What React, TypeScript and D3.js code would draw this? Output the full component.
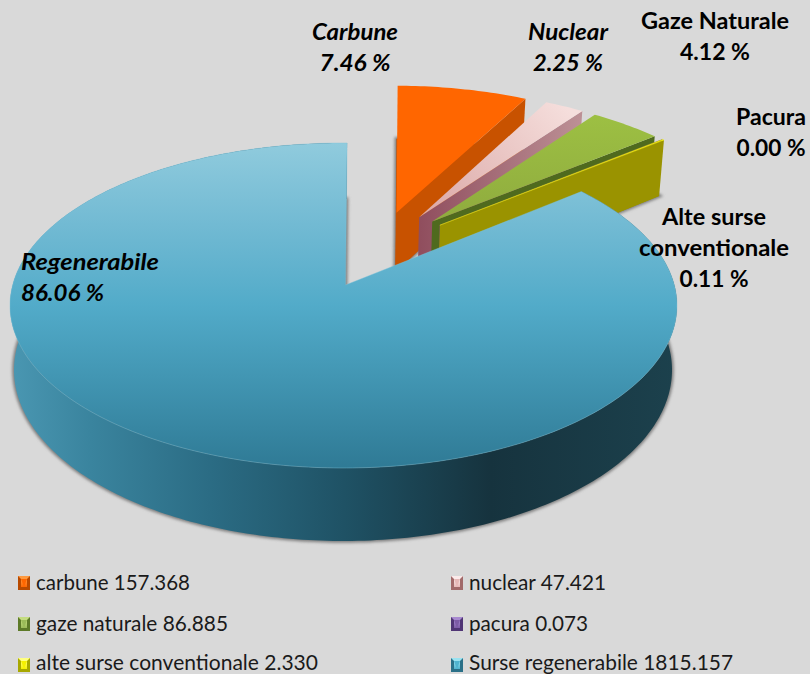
import React from "react";
import * as d3 from "d3";

// ---- data ----
const categories = ["carbune", "nuclear", "gaze naturale", "pacura", "alte surse conventionale", "Surse regenerabile"];
const values = [157.368, 47.421, 86.885, 0.073, 2.33, 1815.157];
const labelTitles = [["Carbune"], ["Nuclear"], ["Gaze Naturale"], ["Pacura"], ["Alte surse", "conventionale"], ["Regenerabile"]];

// ---- styles / layout (not data) ----
const W = 810, H = 674;
const FONT = "Lato, Carlito, 'Open Sans', sans-serif";
const topFrame = { cx: 343.5, cy: 305.5, rx: 333.5, ry: 162.5 };
const botFrame = { cx: 343, cy: 370, rx: 329, ry: 171 };
const persp = 0.126;
const explode = 0.256;
const spin = (0.7 * Math.PI) / 180;
const apexBiasBlue = 0.006;
const apexBiasRest = -0.012;
const uBiasRest = 0.008;
const perspS = Math.sqrt(1 - persp * persp);

const topFill = ["#ff6600", "url(#pinkTop)", "url(#greenTop)", "#8064a2", "#f5f000", "url(#blueTop)"];
const wallFill = ["#c85200", "url(#pinkWall)", "#4f6a1e", "#5a3d80", "#9a9300", "url(#blueWall)"];
const legendBase = ["#ff6600", "#e6b8b7", "#9bbb59", "#7d5ba6", "#f5f000", "#4fb3cf"];
const legendDark = ["#b84a00", "#a26a6a", "#5d7a28", "#503575", "#a8a800", "#2a7088"];
const legendLight = ["#ff9a40", "#fbeaea", "#c4dc80", "#a88ad0", "#ffff80", "#9ae2f0"];

const labelLayout = [
  { x: 355, y: 40, italic: true, anchor: "middle", w: [86, 71] },
  { x: 568, y: 40, italic: true, anchor: "middle", w: [80, 70] },
  { x: 715, y: 29, italic: false, anchor: "middle", w: [148, 70] },
  { x: 771, y: 125, italic: false, anchor: "middle", w: [70, 69] },
  { x: 714, y: 225, italic: false, anchor: "middle", w: [104, 150, 69] },
  { x: 21, y: 270, italic: true, anchor: "start", w: [138, 83] },
];
const legendLayout = {
  xs: [18, 451],
  ys: [583, 624, 665],
  baselines: [590, 631, 669.5],
  widths: [154, 137, 192, 119, 282, 264],
};

const total = d3.sum(values);
const fmtPct = d3.format(".2f");
const fmtVal = d3.format(".3f");

const arcs = d3.pie<number>().sort(null).startAngle(0).endAngle(2 * Math.PI)(values);
const mid = (a: any) => (a.startAngle + a.endAngle) / 2;
const blueMid = mid(arcs[arcs.length - 1]);

type F = typeof topFrame;
const project = (f: F, u0: number, v0: number): [number, number] => {
  const u = u0 * Math.cos(spin) + v0 * Math.sin(spin);
  const v = v0 * Math.cos(spin) - u0 * Math.sin(spin);
  const d = 1 + persp * v;
  return [f.cx + (u * perspS * f.rx) / d, f.cy - (((v + persp) / d) * f.ry)];
};
const isBlueArc = (a: any) => a.index === values.length - 1;
const offsetOf = (a: any): [number, number] => [
  explode * (Math.sin(mid(a)) - Math.sin(blueMid)) + (isBlueArc(a) ? 0 : uBiasRest),
  explode * (Math.cos(mid(a)) - Math.cos(blueMid)),
];
const rim = (a: any, f: F): [number, number][] => {
  const [ox, oy] = offsetOf(a);
  const n = Math.max(2, Math.ceil((a.endAngle - a.startAngle) * 60));
  return d3.range(n + 1).map((i) => {
    const t = a.startAngle + ((a.endAngle - a.startAngle) * i) / n;
    return project(f, ox + Math.sin(t), oy + Math.cos(t));
  });
};
const apex = (a: any, f: F) => {
  const [ox, oy] = offsetOf(a);
  return project(f, ox + (isBlueArc(a) ? apexBiasBlue : apexBiasRest), oy);
};
const line = d3.line();
const closed = (pts: [number, number][]) => (line(pts) || "") + "Z";

function Slice({ a, i }: { a: any; i: number }) {
  const topRim = rim(a, topFrame);
  const botRim = rim(a, botFrame);
  const tA = apex(a, topFrame);
  const bA = apex(a, botFrame);
  const topPath = closed([tA, ...topRim]);
  if (isBlueArc(a)) {
    return (
      <g>
        <path d={closed([...topRim, ...botRim.slice().reverse()])} fill={wallFill[i]} />
        <path d={topPath} fill={topFill[i]} stroke="#7cc3d9" strokeOpacity={0.4} strokeWidth={1} />
      </g>
    );
  }
  const tEnd = topRim[topRim.length - 1];
  const bEnd = botRim[botRim.length - 1];
  return (
    <g>
      <path d={closed([bA, ...botRim])} fill={wallFill[i]} />
      <path d={closed([tA, tEnd, bEnd, bA])} fill={wallFill[i]} />
      <path d={topPath} fill={topFill[i]} stroke={i === 4 ? "#f5f000" : "none"} strokeWidth={i === 4 ? 0.4 : 0} />
    </g>
  );
}

function Shadows() {
  return (
    <g filter="url(#soft)">
      {arcs.map((a, i) => {
        const botRim = rim(a, botFrame);
        const bA = apex(a, botFrame);
        return <path key={i} d={closed([bA, ...botRim])} fill="#7d7d7d" stroke="#7d7d7d" strokeWidth={3.5} />;
      })}
    </g>
  );
}

function LegendMark({ x, y, i }: { x: number; y: number; i: number }) {
  const w = 12, h = 14, b = 3;
  return (
    <g>
      <rect x={x} y={y} width={w} height={h} fill={legendDark[i]} />
      <path d={`M${x},${y}H${x + w}L${x + w - b},${y + b}H${x + b}Z`} fill={legendLight[i]} />
      <rect x={x + b} y={y + b} width={w - 2 * b} height={h - 2 * b} fill={`url(#leg${i})`} />
      <path d={`M${x + b},${y + b}H${x + w - b}L${x + w / 2},${y + h - b}Z`} fill={legendBase[i]} />
    </g>
  );
}

export default function App() {
  return (
    <svg width={W} height={H} viewBox={`0 0 ${W} ${H}`} style={{ position: "fixed", left: 0, top: 0, display: "block" }}>
      <defs>
        <filter id="soft" x="-5%" y="-5%" width="110%" height="110%">
          <feGaussianBlur stdDeviation={1.6} />
        </filter>
        <linearGradient id="blueTop" gradientUnits="userSpaceOnUse" x1={0} x2={0} y1={143} y2={468}>
          <stop offset="0" stopColor="#90cbdd" />
          <stop offset="0.25" stopColor="#72bad3" />
          <stop offset="0.5" stopColor="#52abc9" />
          <stop offset="0.72" stopColor="#4296b3" />
          <stop offset="1" stopColor="#2f7a95" />
        </linearGradient>
        <linearGradient id="blueWall" gradientUnits="userSpaceOnUse" x1={10} x2={677} y1={0} y2={0}>
          <stop offset="0" stopColor="#4a97b2" />
          <stop offset="0.12" stopColor="#3a849e" />
          <stop offset="0.3" stopColor="#2b6c84" />
          <stop offset="0.5" stopColor="#1f5265" />
          <stop offset="0.72" stopColor="#16333e" />
          <stop offset="1" stopColor="#1c414d" />
        </linearGradient>
        <linearGradient id="pinkTop" gradientUnits="userSpaceOnUse" x1={560} x2={430} y1={100} y2={215}>
          <stop offset="0" stopColor="#f5dedc" />
          <stop offset="1" stopColor="#dca9a7" />
        </linearGradient>
        <linearGradient id="pinkWall" gradientUnits="userSpaceOnUse" x1={420} x2={583} y1={0} y2={0}>
          <stop offset="0" stopColor="#904e5e" />
          <stop offset="1" stopColor="#bd9196" />
        </linearGradient>
        <linearGradient id="greenTop" gradientUnits="userSpaceOnUse" x1={0} x2={0} y1={113} y2={223}>
          <stop offset="0" stopColor="#9dc043" />
          <stop offset="1" stopColor="#8fab3e" />
        </linearGradient>
        {legendBase.map((c, i) => (
          <linearGradient key={i} id={`leg${i}`} x1={0} x2={0} y1={0} y2={1}>
            <stop offset="0" stopColor={legendLight[i]} />
            <stop offset="1" stopColor={c} />
          </linearGradient>
        ))}
      </defs>
      <rect x={0} y={0} width={W} height={H} fill="#d9d9d9" />
      <Shadows />
      {arcs.map((a, i) => (
        <Slice key={i} a={a} i={i} />
      ))}
      <g fontFamily={FONT} fontWeight={700} fontSize={22} fill="#000">
        {labelLayout.map((l, i) => {
          const lines = [...labelTitles[i], `${fmtPct((values[i] / total) * 100)} %`];
          return lines.map((t, j) => (
            <text
              key={`${i}-${j}`}
              x={l.x}
              y={l.y + j * 31}
              textAnchor={l.anchor as any}
              fontStyle={l.italic ? "italic" : "normal"}
              textLength={l.w[j]}
              lengthAdjust="spacingAndGlyphs"
            >
              {t}
            </text>
          ));
        })}
      </g>
      <g fontFamily={FONT} fontSize={21} fill="#1a1a1a">
        {categories.map((c, i) => {
          const row = Math.floor(i / 2);
          const x = legendLayout.xs[i % 2];
          const y = legendLayout.ys[row];
          return (
            <g key={c}>
              <LegendMark x={x} y={y - 7} i={i} />
              <text x={x + 18} y={legendLayout.baselines[row]} textLength={legendLayout.widths[i]} lengthAdjust="spacingAndGlyphs">
                {`${c} ${fmtVal(values[i])}`}
              </text>
            </g>
          );
        })}
      </g>
    </svg>
  );
}
